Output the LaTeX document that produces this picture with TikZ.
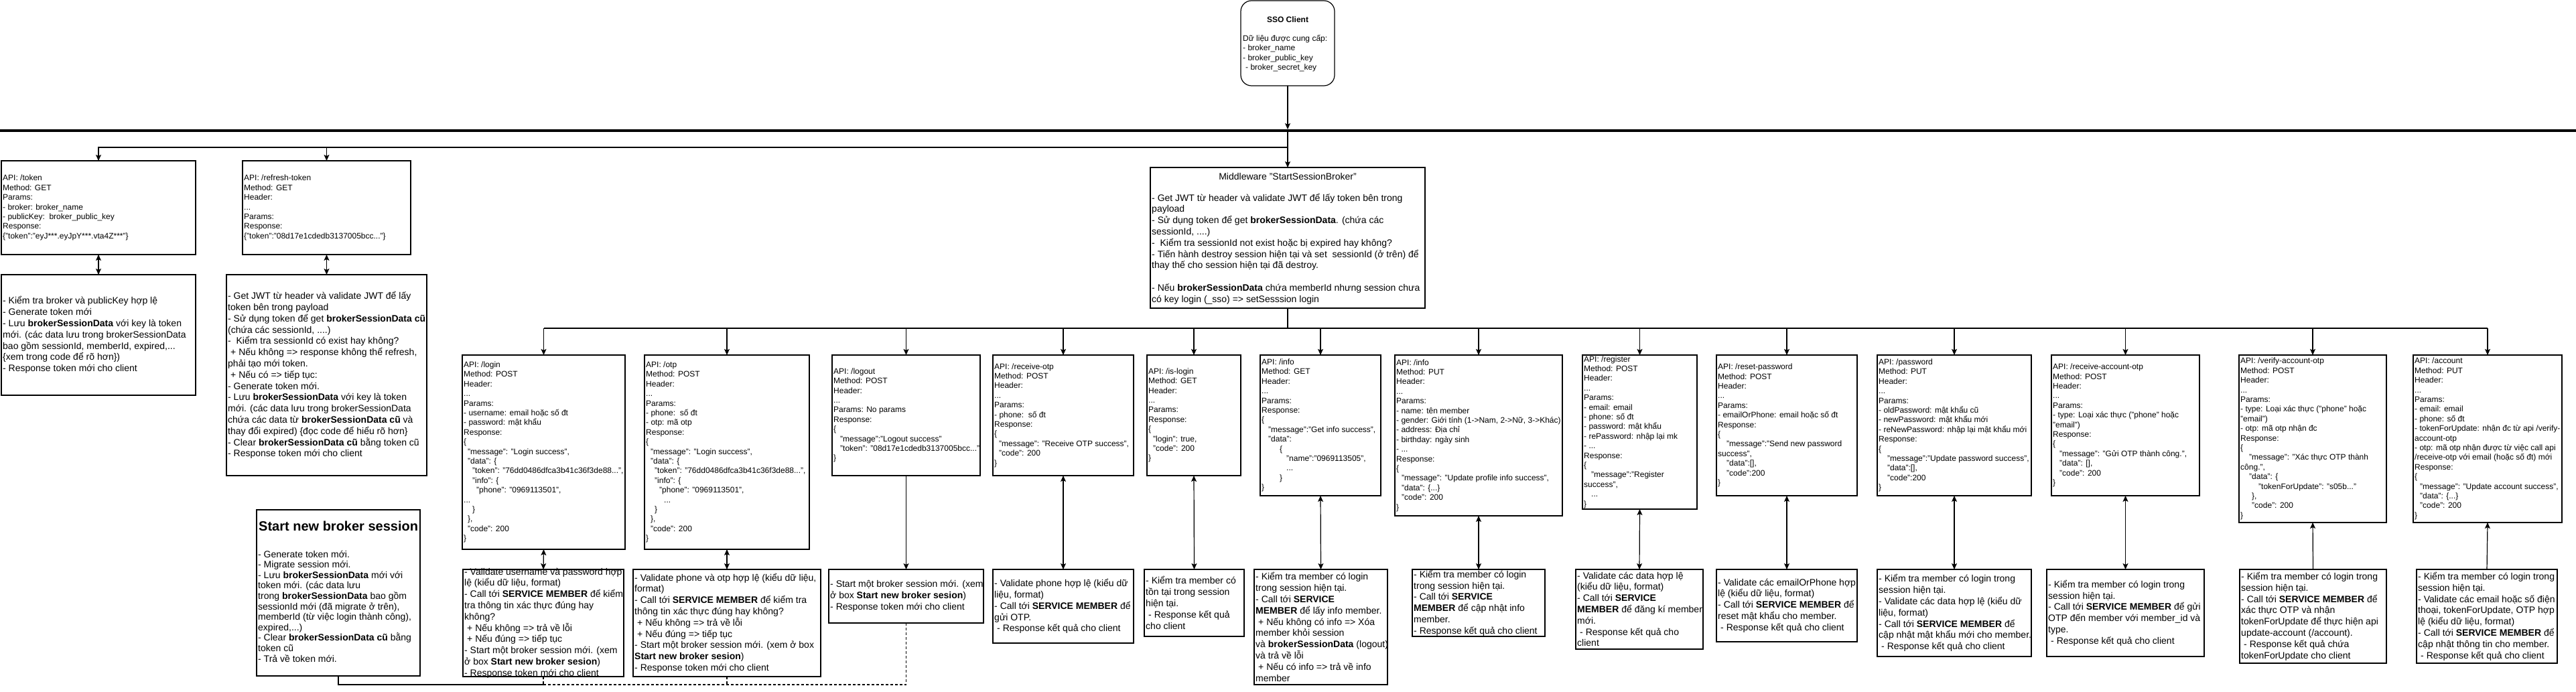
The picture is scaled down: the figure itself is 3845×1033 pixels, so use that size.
\documentclass[tikz,border=0pt]{standalone}
\usepackage{fontspec}
\setmainfont{Liberation Sans}
\usetikzlibrary{arrows.meta}
\newcommand\fa{\fontsize{12}{14.4}\selectfont}
\newcommand\fb{\fontsize{14}{16.8}\selectfont}
\newcommand\myI[1]{\hspace*{#1pt}}
\newcommand\bx[6][]{\node[box,#1,minimum width={#5-#3},minimum height={#6-#4}] (#2) at ({(#3+#5)/2},{(#4+#6)/2}) {};}
\newcommand\tx[3][\fa]{\node[txt,font=#1] (#2T) at ([xshift=2pt]#2.west) {#3};}
\begin{document}
\begin{tikzpicture}[x=1pt,y=-1pt,
  box/.style={draw,line width=1.2pt,inner sep=0pt,outer sep=0pt},
  txt/.style={align=left,inner sep=0pt,anchor=west},
  ln/.style={line width=1.2pt},
  arr/.style={line width=1.2pt,-{Stealth[length=9pt,width=8pt,inset=2pt]}},
  darr/.style={line width=1.2pt,{Stealth[length=9pt,width=8pt,inset=2pt]}-{Stealth[length=9pt,width=8pt,inset=2pt]}},
  dsh/.style={line width=1.2pt,dash pattern=on 4pt off 3pt}]
\fill[white] (0,0) rectangle (3845,1033);
\useasboundingbox (0,0) rectangle (3845,1033);

% ---------- SSO client ----------
\bx[rounded corners=16pt]{sso}{1852}{1}{1992}{128}
\node[font=\fa\bfseries,inner sep=0pt] (ssoTitle) at (1922,29) {SSO Client};
\node[txt,font=\fa] (ssoT) at (1855,79.5) {Dữ liệu được cung cấp:\\- broker\_name\\- broker\_public\_key\\\myI{4}- broker\_secret\_key};

% ---------- thick line ----------
\coordinate (thL) at (0,195);
\coordinate (thR) at (3845,195);
\coordinate (thTop) at (1922,193);
\coordinate (thBot) at (1922,197);
\coordinate (br) at (1922,220);
\draw[line width=4.5pt] (thL) -- (thR);
\draw[arr] (sso.south) -- (thTop);

% ---------- top left ----------
\bx{tok}{2}{240}{292}{380}
\tx{tok}{API: /token\\Method: GET\\Params:\\- broker: broker\_name\\- publicKey:\ \ broker\_public\_key\\Response:\\\{"token":"eyJ***.eyJpY***.vta4Z***"\}}
\bx{ref}{362}{240}{613}{380}
\tx{ref}{API: /refresh-token\\Method: GET\\Header:\\...\\Params:\\Response:\\\{"token":"08d17e1cdedb3137005bcc..."\}}
\bx{tok-d}{2}{410}{292}{590}
\tx[\fb]{tok-d}{- Kiểm tra broker và publicKey hợp lệ\\- Generate token mới\\- Lưu \textbf{brokerSessionData} với key là token\\mới. (các data lưu trong brokerSessionData\\bao gồm sessionId, memberId, expired,...\\\{xem trong code để rõ hơn\})\\- Response token mới cho client}
\bx{ref-d}{338}{410}{637}{710}
\tx[\fb]{ref-d}{- Get JWT từ header và validate JWT để lấy\\token bên trong payload\\- Sử dụng token để get \textbf{brokerSessionData cũ}\\(chứa các sessionId, ....)\\-\ \ Kiểm tra sessionId có exist hay không?\\\myI{4}+ Nếu không => response không thể refresh,\\phải tạo mới token.\\\myI{4}+ Nếu có => tiếp tục:\\- Generate token mới.\\- Lưu \textbf{brokerSessionData} với key là token\\mới. (các data lưu trong brokerSessionData\\chứa các data từ \textbf{brokerSessionData cũ} và\\thay đổi expired) \{đọc code để hiểu rõ hơn\}\\- Clear \textbf{brokerSessionData cũ} bằng token cũ\\- Response token mới cho client}
\draw[arr] (br) -| (tok.north);
\draw[arr] (br) -| (ref.north);
\draw[darr] (tok.south) -- (tok-d.north);
\draw[darr] (ref.south) -- (ref-d.north);

% ---------- middleware ----------
\bx{mw}{1717}{250}{2127}{460}
\node[font=\fb,inner sep=0pt] (mwTitle) at (1922,263) {Middleware "StartSessionBroker"};
\node[txt,font=\fb] (mwT) at (1719,371.5) {- Get JWT từ header và validate JWT để lấy token bên trong\\payload\\- Sử dụng token để get \textbf{brokerSessionData}. (chứa các\\sessionId, ....)\\-\ \ Kiểm tra sessionId not exist hoặc bị expired hay không?\\- Tiến hành destroy session hiện tại và set\ \ sessionId (ở trên) để\\thay thế cho session hiện tại đã destroy.\\\mbox{}\\- Nếu \textbf{brokerSessionData} chứa memberId nhưng session chưa\\có key login (\_sso) => setSesssion login};
\draw[arr] (thBot) -- (mw.north);

% ---------- API row ----------
\bx{login}{690}{530}{933}{820}
\tx{login}{API: /login\\Method: POST\\Header:\\...\\Params:\\- username: email hoặc số đt\\- password: mật khẩu\\Response:\\\{\\\myI{6}"message": "Login success",\\\myI{6}"data": \{\\\myI{13}"token": "76dd0486dfca3b41c36f3de88...",\\\myI{13}"info": \{\\\myI{19}"phone": "0969113501",\\...\\\myI{13}\}\\\myI{6}\},\\\myI{6}"code": 200\\\}}
\bx{otp}{962}{530}{1208}{820}
\tx{otp}{API: /otp\\Method: POST\\Header:\\...\\Params:\\- phone:\ \ số đt\\- otp: mã otp\\Response:\\\{\\\myI{7}"message": "Login success",\\\myI{7}"data": \{\\\myI{13}"token": "76dd0486dfca3b41c36f3de88...",\\\myI{13}"info": \{\\\myI{20}"phone": "0969113501",\\\myI{27}...\\\myI{13}\}\\\myI{7}\},\\\myI{7}"code": 200\\\}}
\bx{logout}{1242}{530}{1463}{710}
\tx{logout}{API: /logout\\Method: POST\\Header:\\...\\Params: No params\\Response:\\\{\\\myI{10}"message":"Logout success"\\\myI{10}"token": "08d17e1cdedb3137005bcc..."\\\}}
\bx{recotp}{1482}{530}{1692}{710}
\tx{recotp}{API: /receive-otp\\Method: POST\\Header:\\...\\Params:\\- phone:\ \ số đt\\Response:\\\{\\\myI{7}"message": "Receive OTP success",\\\myI{7}"code": 200\\\}}
\bx{islogin}{1712}{530}{1852}{710}
\tx{islogin}{API: /is-login\\Method: GET\\Header:\\...\\Params:\\Response:\\\{\\\myI{7}"login": true,\\\myI{7}"code": 200\\\}}
\bx{infog}{1881}{530}{2061}{740}
\tx{infog}{API: /info\\Method: GET\\Header:\\...\\Params:\\Response:\\\{\\\myI{10}"message":"Get info success",\\\myI{10}"data":\\\myI{27}\{\\\myI{37}"name":"0969113505",\\\myI{37}...\\\myI{27}\}\\\}}
\bx{infop}{2082}{530}{2332}{770}
\tx{infop}{API: /info\\Method: PUT\\Header:\\...\\Params:\\- name: tên member\\- gender: Giới tính (1->Nam, 2->Nữ, 3->Khác)\\- address: Địa chỉ\\- birthday: ngày sinh\\- ...\\Response:\\\{\\\myI{8}"message": "Update profile info success",\\\myI{8}"data": \{...\}\\\myI{8}"code": 200\\\}}
\bx{reg}{2362}{530}{2533}{760}
\tx{reg}{API: /register\\Method: POST\\Header:\\...\\Params:\\- email: email\\- phone: số đt\\- password: mật khẩu\\- rePassword: nhập lại mk\\- ...\\Response:\\\{\\\myI{11}"message":"Register\\success",\\\myI{11}...\\\}}
\bx{reset}{2562}{530}{2772}{740}
\tx{reset}{API: /reset-password\\Method: POST\\Header:\\...\\Params:\\- emailOrPhone: email hoặc số đt\\Response:\\\{\\\myI{13}"message":"Send new password\\success",\\\myI{13}"data":[],\\\myI{13}"code":200\\\}}
\bx{pass}{2802}{530}{3032}{740}
\tx{pass}{API: /password\\Method: PUT\\Header:\\...\\Params:\\- oldPassword: mật khẩu cũ\\- newPassword: mật khẩu mới\\- reNewPassword: nhập lại mật khẩu mới\\Response:\\\{\\\myI{13}"message":"Update password success",\\\myI{13}"data":[],\\\myI{13}"code":200\\\}}
\bx{rao}{3062}{530}{3283}{740}
\tx{rao}{API: /receive-account-otp\\Method: POST\\Header:\\...\\Params:\\- type: Loại xác thực ("phone" hoặc\\"email")\\Response:\\\{\\\myI{10}"message": "Gửi OTP thành công.",\\\myI{10}"data": [],\\\myI{10}"code": 200\\\}}
\bx{verify}{3342}{530}{3562}{780}
\tx{verify}{API: /verify-account-otp\\Method: POST\\Header:\\...\\Params:\\- type: Loại xác thực ("phone" hoặc\\"email")\\- otp: mã otp nhận đc\\Response:\\\{\\\myI{13}"message": "Xác thực OTP thành\\công.",\\\myI{13}"data": \{\\\myI{27}"tokenForUpdate": "s05b..."\\\myI{17}\},\\\myI{17}"code": 200\\\}}
\bx{acct}{3602}{530}{3824}{780}
\tx{acct}{API: /account\\Method: PUT\\Header:\\...\\Params:\\- email: email\\- phone: số đt\\- tokenForUpdate: nhận đc từ api /verify-\\account-otp\\- otp: mã otp nhận được từ việc call api\\/receive-otp với email (hoặc số đt) mới\\Response:\\\{\\\myI{8}"message": "Update account success",\\\myI{8}"data": \{...\}\\\myI{8}"code": 200\\\}}

% ---------- bus ----------
\coordinate (busC) at (1922,490);
\coordinate (busL) at (login.north |- busC);
\coordinate (busR) at (acct.north |- busC);
\draw[ln] (mw.south) -- (busC);
\draw[ln] (busL) -- (busR);
\foreach \n in {login,otp,logout,recotp,islogin,infog,infop,reg,reset,pass,rao,verify,acct}
  \draw[arr] (\n.north |- busC) -- (\n.north);

% ---------- description row ----------
\bx{login-d}{691}{850}{931}{1010}
\tx[\fb]{login-d}{- Validate username và password hợp\\lệ (kiểu dữ liệu, format)\\- Call tới \textbf{SERVICE MEMBER} để kiểm\\tra thông tin xác thực đúng hay\\không?\\\myI{4}+ Nếu không => trả về lỗi\\\myI{4}+ Nếu đúng => tiếp tục\\- Start một broker session mới. (xem\\ở box \textbf{Start new broker sesion})\\- Response token mới cho client}
\bx{otp-d}{945}{850}{1225}{1010}
\tx[\fb]{otp-d}{- Validate phone và otp hợp lệ (kiểu dữ liệu,\\format)\\- Call tới \textbf{SERVICE MEMBER} để kiểm tra\\thông tin xác thực đúng hay không?\\\myI{4}+ Nếu không => trả về lỗi\\\myI{4}+ Nếu đúng => tiếp tục\\- Start một broker session mới. (xem ở box\\\textbf{Start new broker sesion})\\- Response token mới cho client}
\bx{logout-d}{1237}{850}{1468}{930}
\tx[\fb]{logout-d}{- Start một broker session mới. (xem\\ở box \textbf{Start new broker sesion})\\- Response token mới cho client}
\bx{recotp-d}{1482}{850}{1692}{960}
\tx[\fb]{recotp-d}{- Validate phone hợp lệ (kiểu dữ\\liệu, format)\\- Call tới \textbf{SERVICE MEMBER} để\\gửi OTP.\\\myI{4}- Response kết quả cho client}
\bx{islogin-d}{1708}{850}{1857}{950}
\tx[\fb]{islogin-d}{- Kiểm tra member có\\tồn tại trong session\\hiện tại.\\\myI{4}- Response kết quả\\cho client}
\bx{infog-d}{1872}{850}{2071}{1022}
\tx[\fb]{infog-d}{- Kiểm tra member có login\\trong session hiện tại.\\- Call tới \textbf{SERVICE}\\\textbf{MEMBER} để lấy info member.\\\myI{4}+ Nếu không có info => Xóa\\member khỏi session\\và \textbf{brokerSessionData} (logout)\\và trả về lỗi\\\myI{4}+ Nếu có info => trả về info\\member}
\bx{infop-d}{2108}{850}{2306}{950}
\tx[\fb]{infop-d}{- Kiểm tra member có login\\trong session hiện tại.\\- Call tới \textbf{SERVICE}\\\textbf{MEMBER} để cập nhật info\\member.\\- Response kết quả cho client}
\bx{reg-d}{2352}{850}{2542}{969}
\tx[\fb]{reg-d}{- Validate các data hợp lệ\\(kiểu dữ liệu, format)\\- Call tới \textbf{SERVICE}\\\textbf{MEMBER} để đăng kí member\\mới.\\\myI{4}- Response kết quả cho\\client}
\bx{reset-d}{2562}{850}{2772}{958}
\tx[\fb]{reset-d}{- Validate các emailOrPhone hợp\\lệ (kiểu dữ liệu, format)\\- Call tới \textbf{SERVICE MEMBER} để\\reset mật khẩu cho member.\\\myI{4}- Response kết quả cho client}
\bx{pass-d}{2802}{850}{3032}{980}
\tx[\fb]{pass-d}{- Kiểm tra member có login trong\\session hiện tại.\\- Validate các data hợp lệ (kiểu dữ\\liệu, format)\\- Call tới \textbf{SERVICE MEMBER} để\\cập nhật mật khẩu mới cho member.\\\myI{4}- Response kết quả cho client}
\bx{rao-d}{3055}{850}{3290}{980}
\tx[\fb]{rao-d}{- Kiểm tra member có login trong\\session hiện tại.\\- Call tới \textbf{SERVICE MEMBER} để gửi\\OTP đến member với member\_id và\\type.\\\myI{4}- Response kết quả cho client}
\bx{verify-d}{3343}{850}{3562}{990}
\tx[\fb]{verify-d}{- Kiểm tra member có login trong\\session hiện tại.\\- Call tới \textbf{SERVICE MEMBER} để\\xác thực OTP và nhận\\tokenForUpdate để thực hiện api\\update-account (/account).\\\myI{4}- Response kết quả chứa\\tokenForUpdate cho client}
\bx{acct-d}{3607}{850}{3817}{990}
\tx[\fb]{acct-d}{- Kiểm tra member có login trong\\session hiện tại.\\- Validate các email hoặc số điện\\thoại, tokenForUpdate, OTP hợp\\lệ (kiểu dữ liệu, format)\\- Call tới \textbf{SERVICE MEMBER} để\\cập nhật thông tin cho member.\\\myI{4}- Response kết quả cho client}

\foreach \n in {login,otp,recotp,islogin,infog,infop,reg,reset,pass,rao}
  \draw[darr] (\n.south) -- (\n-d.north);
\draw[arr] (logout.south) -- (logout-d.north);
\draw[arr] (verify-d.north) -- (verify.south);
\draw[arr] (acct-d.north) -- (acct.south);

% ---------- start new broker session ----------
\bx{start}{383}{761}{627}{1009}
\node[txt,font=\fontsize{20}{24}\selectfont\bfseries] (startTitle) at (386,785) {Start new broker session};
\node[txt,font=\fontsize{14}{15.6}\selectfont] (startT) at (385,905) {- Generate token mới.\\- Migrate session mới.\\- Lưu \textbf{brokerSessionData} mới với\\token mới. (các data lưu\\trong \textbf{brokerSessionData} bao gồm\\sessionId mới (đã migrate ở trên),\\memberId (từ việc login thành công),\\expired,...)\\- Clear \textbf{brokerSessionData cũ} bằng\\token cũ\\- Trả về token mới.};

\coordinate (yb) at (0,1022);
\draw[ln] (start.south) -- (start.south |- yb) -- (login-d.south |- yb);
\draw[dsh] (login-d.south) -- (login-d.south |- yb);
\draw[dsh] (otp-d.south) -- (otp-d.south |- yb);
\draw[dsh] (logout-d.south) -- (logout-d.south |- yb) -- (login-d.south |- yb);
\end{tikzpicture}
\end{document}
